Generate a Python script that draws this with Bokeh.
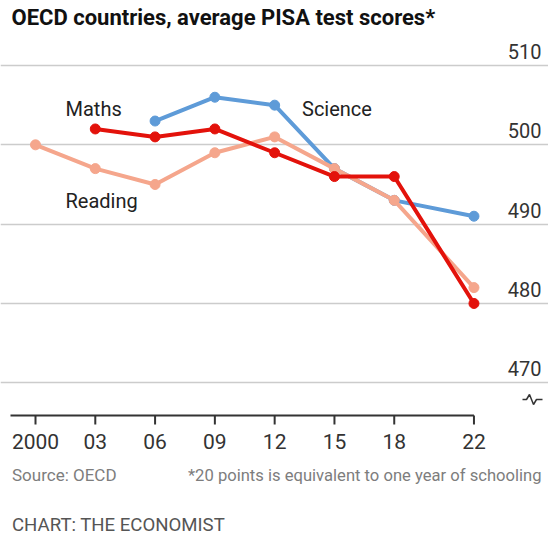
from bokeh.plotting import figure
from bokeh.models import Range1d, FixedTicker, Grid, Label, ColumnDataSource
from bokeh.core.properties import value
from bokeh.embed import file_html
from bokeh.resources import INLINE

# ---------------- data ----------------
years_maths = [2003, 2006, 2009, 2012, 2015, 2018, 2022]
maths = [502, 501, 502, 499, 496, 496, 480]

years_reading = [2000, 2003, 2006, 2009, 2012, 2015, 2018, 2022]
reading = [500, 497, 495, 499, 501, 497, 493, 482]

years_science = [2006, 2009, 2012, 2015, 2018, 2022]
science = [503, 506, 505, 497, 493, 491]

x_ticks = [2000, 2003, 2006, 2009, 2012, 2015, 2018, 2022]
x_tick_labels = ["2000", "03", "06", "09", "12", "15", "18", "22"]
y_ticks = [470, 480, 490, 500, 510]
y_tick_labels = ["470", "480", "490", "500", "510"]

title_text = "OECD countries, average PISA test scores*"
source_text = "Source: OECD"
note_text = "*20 points is equivalent to one year of schooling"
credit_text = "CHART: THE ECONOMIST"

# ---------------- styling ----------------
RED = "#E3120B"
PINK = "#F5A68C"
BLUE = "#5E9BD8"
FONT = "Roboto"
BASE_FIX = 0.4   # em shift to place the alphabetic baseline where wanted

W, H = 548, 539
px_per_year = 19.93
px_per_pt = 7.9325
x0_px = 35.0          # pixel of year 2000
y470_px = 382.3       # pixel of score 470
grid_left, grid_right = 10, 542
axis_px = 415         # pixel row of the x axis line
tick_len = 9


def X(px):
    return 2000 + (px - x0_px) / px_per_year


def Y(py):
    return 470 + (y470_px - py) / px_per_pt


p = figure(width=W, height=H, x_range=Range1d(X(0), X(W)),
           y_range=Range1d(Y(H), Y(0)), output_backend="svg",
           toolbar_location=None, x_axis_location=None, y_axis_location=None,
           min_border=0)
p.outline_line_color = None
p.background_fill_color = "white"
p.border_fill_color = "white"
p.grid.visible = False

# horizontal gridlines
grid = Grid(dimension=1, ticker=FixedTicker(ticks=y_ticks),
            bounds=(X(grid_left), X(grid_right)),
            grid_line_color="#cccccc", grid_line_width=1.6)
p.add_layout(grid, "center")

# x axis: line, ticks, labels
ax_y = Y(axis_px)
p.segment(x0=[X(grid_left)], y0=[ax_y], x1=[x_ticks[-1]], y1=[ax_y],
          line_color="#333333", line_width=2)
p.segment(x0=x_ticks, y0=[ax_y] * len(x_ticks), x1=x_ticks,
          y1=[Y(axis_px + tick_len)] * len(x_ticks),
          line_color="#333333", line_width=2)
p.text(x=x_ticks, y=[Y(449.5 - BASE_FIX * 21)] * len(x_ticks), text=x_tick_labels,
       text_align="center", text_baseline="alphabetic",
       text_font=value(FONT), text_font_size="21px", text_color="#333333")

# y tick labels (right, above gridlines)
ysrc = ColumnDataSource(dict(x=[X(grid_right)] * len(y_ticks), y=y_ticks, t=y_tick_labels))
p.text(x="x", y="y", text="t", source=ysrc, text_align="right",
       text_baseline="alphabetic", x_offset=-1, y_offset=-6 - BASE_FIX * 20,
       text_font=value(FONT), text_font_size="20px", text_color="#333333")

# axis break symbol
bx = [X(p_) for p_ in (522, 526, 529, 533, 536, 542)]
by = [Y(p_) for p_ in (399, 399, 394, 404, 399, 399)]
p.line(bx, by, line_color="#333333", line_width=1.5)

# series
for xs, ys, c in ((years_science, science, BLUE),
                  (years_reading, reading, PINK),
                  (years_maths, maths, RED)):
    p.line(xs, ys, line_color=c, line_width=4, line_join="round")
    p.scatter(xs, ys, size=10, fill_color=c, line_color=c)


def add_label(text, px, py, size, color, align="left", style="normal"):
    p.add_layout(Label(x=X(px), y=Y(py - BASE_FIX * size), text=text, text_align=align,
                       text_baseline="alphabetic", text_font=FONT,
                       text_font_size=f"{size}px", text_color=color,
                       text_font_style=style))


add_label("Maths", 65, 116, 20, "#222222")
add_label("Science", 301.5, 116.7, 20, "#222222")
add_label("Reading", 65, 208.3, 20, "#222222")

add_label(title_text, 11, 26, 22, "#111111", style="bold")
add_label(source_text, 11.5, 481.7, 17, "#7d7d7d")
add_label(note_text, 541, 481.7, 16.6, "#7d7d7d", align="right")
add_label(credit_text, 11.5, 531.7, 18.6, "#555555")

open("out.html", "w").write(file_html(p, INLINE))
